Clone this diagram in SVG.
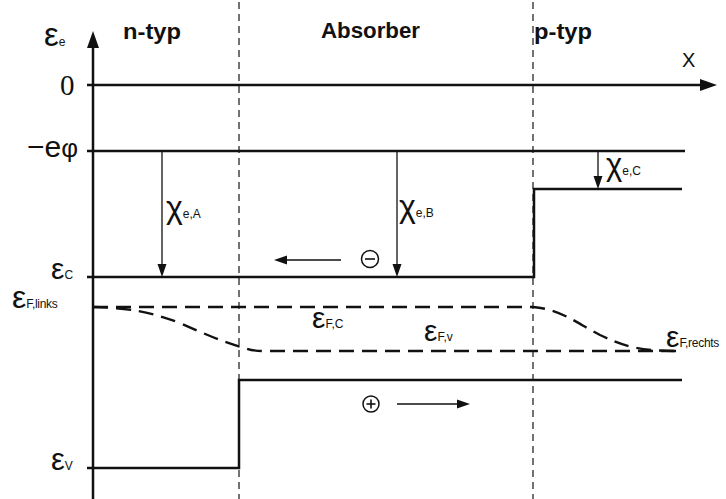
<svg xmlns="http://www.w3.org/2000/svg" width="726" height="499" viewBox="0 0 726 499">
<defs>
<style>
.band{fill:none;stroke:#111;stroke-width:2.5}
.fermi{fill:none;stroke:#111;stroke-width:2.4;stroke-dasharray:15 8}
.sep{fill:none;stroke:#444;stroke-width:1.5;stroke-dasharray:7 5}
.thin{fill:none;stroke:#111;stroke-width:1.3}
.head{fill:#111}
.sym{font-family:"Liberation Sans","DejaVu Sans",sans-serif;fill:#111}
.sub{font-family:"Liberation Sans","DejaVu Sans",sans-serif;font-size:12px;fill:#111}
.reg{font-family:"Liberation Sans",Arial,sans-serif;font-weight:bold;font-size:22px;fill:#111}
</style>
</defs>
<rect width="726" height="499" fill="#fff"/>
<g id="separators">
<line class="sep" x1="239" y1="2" x2="239" y2="499"/>
<line class="sep" x1="533" y1="2" x2="533" y2="499"/>
</g>
<g id="axes">
<line class="band" x1="93" y1="44" x2="93" y2="499"/>
<polygon class="head" points="93,31 87,48 99,48"/>
<line class="band" x1="87" y1="85" x2="702" y2="85"/>
<polygon class="head" points="717,85 700,79 700,91"/>
</g>
<g id="vacuum">
<line class="band" x1="87" y1="151" x2="685" y2="151"/>
</g>
<g id="conduction">
<polyline class="band" points="87,277 534,277 534,189 682,189"/>
</g>
<g id="valence">
<polyline class="band" points="87,468 239,468 239,380 682,380"/>
</g>
<g id="fermi">
<path class="fermi" d="M93,307 L533,307 C560,309 575,322 600,335 C625,347 640,351 682,351"/>
<path class="fermi" d="M93,307 C130,308 150,312 180,323 C205,334 225,343 245,348 C250,350 255,351 265,351 L682,351"/>
</g>
<g id="connectors">
<line class="thin" x1="162" y1="151" x2="162" y2="265"/>
<polygon class="head" points="162,277 157.5,264 166.5,264"/>
<line class="thin" x1="397" y1="151" x2="397" y2="265"/>
<polygon class="head" points="397,277 392.5,264 401.5,264"/>
<line class="thin" x1="598" y1="151" x2="598" y2="177"/>
<polygon class="head" points="598,189 593.5,176 602.5,176"/>
<line class="thin" x1="341" y1="260" x2="285" y2="260"/>
<polygon class="head" points="274,260 287,255.5 287,264.5"/>
<line class="thin" x1="397" y1="404" x2="460" y2="404"/>
<polygon class="head" points="470,404 457,399.5 457,408.5"/>
</g>
<g id="carriers">
<circle cx="370" cy="259" r="8.5" fill="none" stroke="#111" stroke-width="1.5"/>
<line x1="365" y1="259" x2="375" y2="259" stroke="#111" stroke-width="1.6"/>
<circle cx="371" cy="404" r="8" fill="none" stroke="#111" stroke-width="1.5"/>
<line x1="366.5" y1="404" x2="375.5" y2="404" stroke="#111" stroke-width="1.6"/>
<line x1="371" y1="399.5" x2="371" y2="408.5" stroke="#111" stroke-width="1.6"/>
</g>
<g id="labels">
<text class="reg" x="123" y="39" textLength="58" lengthAdjust="spacingAndGlyphs">n-typ</text>
<text class="reg" x="321" y="38" textLength="99" lengthAdjust="spacingAndGlyphs">Absorber</text>
<text class="reg" x="534" y="39" textLength="58" lengthAdjust="spacingAndGlyphs">p-typ</text>
<text class="sym" x="682" y="67" font-size="20">X</text>
<text x="60" y="95" font-family="Liberation Serif,serif" font-size="29" fill="#111">0</text>
<text class="sym" x="27" y="157" font-size="30">−e<tspan font-size="26">φ</tspan></text>
<text class="sym" x="44" y="46" font-size="33">ε<tspan class="sub" dy="0">e</tspan></text>
<text class="sym" x="51" y="279" font-size="30">ε<tspan class="sub">C</tspan></text>
<text class="sym" x="12" y="308" font-size="32">ε<tspan class="sub" font-size="11" letter-spacing="-0.3">F,links</tspan></text>
<text class="sym" x="51" y="470" font-size="31">ε<tspan class="sub">V</tspan></text>
<text class="sym" x="312" y="328" font-size="30">ε<tspan class="sub">F,C</tspan></text>
<text class="sym" x="424" y="341" font-size="30">ε<tspan class="sub">F,v</tspan></text>
<text class="sym" x="666" y="347" font-size="30">ε<tspan class="sub" font-size="11" letter-spacing="-0.3">F,rechts</tspan></text>
<text class="sym" x="166" y="218" font-size="32">χ<tspan class="sub" font-size="13">e,A</tspan></text>
<text class="sym" x="399" y="217" font-size="32">χ<tspan class="sub" font-size="13">e,B</tspan></text>
<text class="sym" x="606" y="175" font-size="31">χ<tspan class="sub" font-size="13">e,C</tspan></text>
</g>
</svg>
